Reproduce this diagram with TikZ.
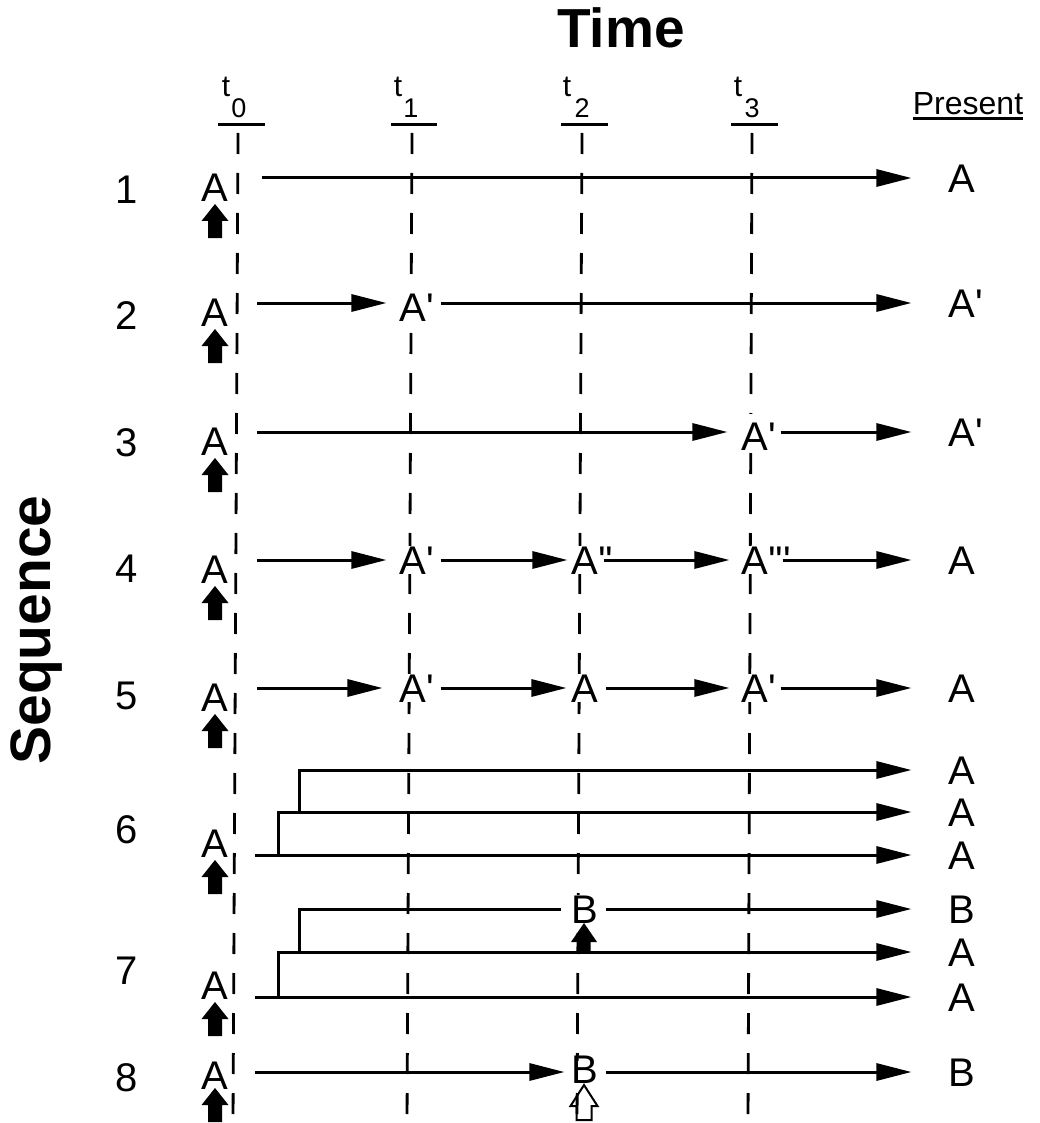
\documentclass[tikz,border=0pt]{standalone}
\usepackage{fontspec}
\newfontfamily\hv{Liberation Sans}
\usetikzlibrary{arrows.meta}
\tikzset{
  every node/.style={font=\hv},
  lbl/.style={inner sep=0pt, font=\hv\fontsize{40}{40}\selectfont, text height=28.6pt, text depth=0pt},
  mid/.style={lbl, fill=white, text height=36.6pt},
  midc/.style={lbl, fill=white},
  midup/.style={lbl, fill=white, text height=22.6pt},
  num/.style={inner sep=0pt, font=\hv\fontsize{40}{40}\selectfont, text height=28.4pt, text depth=0pt},
  tlab/.style={inner sep=0pt, anchor=base, font=\hv\fontsize{30}{30}\selectfont},
  slab/.style={inner sep=0pt, anchor=base, font=\hv\fontsize{27}{27}\selectfont},
  line/.style={line width=3pt},
  arr/.style={line, -{Triangle[length=35pt,width=17pt]}},
  dashline/.style={line width=2.8pt, dash pattern=on 21pt off 19pt},
  uline/.style={line width=3pt},
  blockup/.pic={\fill (0,0) -- (13.5,17) -- (7,17) -- (7,34) -- (-7,34) -- (-7,17) -- (-13.5,17) -- cycle;},
  blockupB/.pic={\fill (0,0) -- (13,19) -- (6.5,19) -- (6.5,29) -- (-6.5,29) -- (-6.5,19) -- (-13,19) -- cycle;},
  openup/.pic={\draw[line width=2pt, line join=miter] (0,0) -- (13.5,21) -- (7.5,21) -- (7.5,35) -- (-7.5,35) -- (-7.5,21) -- (-13.5,21) -- cycle;}
}
\begin{document}
\begin{tikzpicture}[x=1pt,y=-1pt]
\useasboundingbox (0,0) rectangle (1039,1123);

% titles
\node[anchor=base, inner sep=0pt, font=\hv\bfseries\fontsize{55}{55}\selectfont] (time) at (621,48) {Time};
\node[rotate=90, anchor=base, inner sep=0pt, font=\hv\bfseries\fontsize{57}{57}\selectfont] (seq) at (50,630) {Sequence};
\node[anchor=base, inner sep=0pt, font=\hv\fontsize{32}{32}\selectfont] (pres) at (968,115) {Present};
\draw[line width=2.5pt] ([yshift=-3.5pt]pres.base west) -- ([yshift=-3.5pt]pres.base east);

% time labels
\node[tlab] (t0) at (226,97) {t};  \node[slab] (s0) at (239,118) {0};
\node[tlab] (t1) at (398,97) {t};  \node[slab] (s1) at (411,118) {1};
\node[tlab] (t2) at (567,97) {t};  \node[slab] (s2) at (582,118) {2};
\node[tlab] (t3) at (738,97) {t};  \node[slab] (s3) at (752,118) {3};
\draw[uline] (218,125) -- (265,125);
\draw[uline] (391,125) -- (437,125);
\draw[uline] (561,125) -- (608,125);
\draw[uline] (731,125) -- (778,125);

% dashed time lines
\draw[dashline] (238,133) -- (233,1123);
\draw[dashline] (412,133) -- (407,1123);
\draw[dashline] (582,133) -- (577,1123);
\draw[dashline] (752,133) -- (748,1123);

% sequence numbers
\node[num] (n1) at (127,189) {1};
\node[num] (n2) at (127,315) {2};
\node[num] (n3) at (127,442) {3};
\node[num] (n4) at (127,568) {4};
\node[num] (n5) at (127,695) {5};
\node[num] (n6) at (127,829) {6};
\node[num] (n7) at (127,970) {7};
\node[num] (n8) at (127,1077) {8};

% starting A's and arrows
\node[lbl] (L1) at (215,187) {A};  \pic at (215,204) {blockup};
\node[lbl] (L2) at (215,312) {A};  \pic at (215,329) {blockup};
\node[lbl] (L3) at (215,441) {A};  \pic at (215,458) {blockup};
\node[lbl] (L4) at (215,569) {A};  \pic at (215,586) {blockup};
\node[lbl] (L5) at (215,697) {A};  \pic at (215,714) {blockup};
\node[lbl] (L6) at (215,843) {A};  \pic at (215,860) {blockup};
\node[lbl] (L7) at (215,985) {A};  \pic at (215,1002) {blockup};
\node[lbl] (L8) at (215,1075) {A}; \pic at (215,1088) {blockup};

% present column
\node[lbl] (R1) at (962,178) {A};
\node[lbl] (R2) at (962,303) {A\rlap{'}};
\node[lbl] (R3) at (962,432) {A\rlap{'}};
\node[lbl] (R4) at (962,560) {A};
\node[lbl] (R5) at (962,688) {A};
\node[lbl] (R6a) at (962,770) {A};
\node[lbl] (R6b) at (962,812) {A};
\node[lbl] (R6c) at (962,855) {A};
\node[lbl] (R7a) at (962,909) {B};
\node[lbl] (R7b) at (962,952) {A};
\node[lbl] (R7c) at (962,997) {A};
\node[lbl] (R8) at (962,1072) {B};

% row 1
\coordinate (st1) at (262,178);
\draw[arr, shorten >=37pt] (st1) -- (R1);

% row 2
\coordinate (st2) at (257,303);
\node[mid] (M2a) at (413,303) {A\rlap{'}};
\draw[arr, shorten >=13pt] (st2) -- (M2a);
\draw[arr, shorten <=14pt, shorten >=37pt] (M2a) -- (R2);

% row 3
\coordinate (st3) at (257,432);
\node[mid] (M3) at (755,432) {A\rlap{'}};
\draw[arr, shorten >=14pt] (st3) -- (M3);
\draw[arr, shorten <=12pt, shorten >=37pt] (M3) -- (R3);

% row 4
\coordinate (st4) at (257,560);
\node[midc] (M4a) at (413,560) {A\rlap{'}};
\node[midc] (M4b) at (585,560) {A\rlap{''}};
\node[midc] (M4c) at (755,560) {A\rlap{'''}};
\draw[arr, shorten >=13pt] (st4) -- (M4a);
\draw[arr, shorten <=14pt, shorten >=4pt] (M4a) -- (M4b);
\draw[arr, shorten <=5pt, shorten >=12pt] (M4b) -- (M4c);
\draw[arr, shorten <=14pt, shorten >=37pt] (M4c) -- (R4);

% row 5
\coordinate (st5) at (257,688);
\node[midc] (M5a) at (413,688) {A\rlap{'}};
\node[midc] (M5b) at (585,688) {A};
\node[midc] (M5c) at (755,688) {A\rlap{'}};
\draw[arr, shorten >=17pt] (st5) -- (M5a);
\draw[arr, shorten <=14pt, shorten >=5pt] (M5a) -- (M5b);
\draw[arr, shorten <=7pt, shorten >=12pt] (M5b) -- (M5c);
\draw[arr, shorten <=12pt, shorten >=37pt] (M5c) -- (R5);

% row 6
\coordinate (st6) at (255,855);
\coordinate (k6a) at (278,855);
\coordinate (k6b) at (299,812);
\draw[arr, shorten >=37pt] (st6) -- (R6c);
\draw[arr, shorten >=37pt] (k6a) |- (R6b);
\draw[arr, shorten >=37pt] (k6b) |- (R6a);

% row 7
\coordinate (st7) at (255,997);
\coordinate (k7a) at (278,997);
\coordinate (k7b) at (299,952);
\node[midc] (B7) at (585,909) {B};
\draw[arr, shorten >=37pt] (st7) -- (R7c);
\draw[arr, shorten >=37pt] (k7a) |- (R7b);
\draw[line, shorten >=10pt] (k7b) |- (B7);
\draw[arr, shorten <=7pt, shorten >=37pt] (B7) -- (R7a);
\pic at (584,923) {blockupB};

% row 8
\coordinate (st8) at (255,1072);
\node[midup] (B8) at (585,1072) {B};
\draw[arr, shorten >=7pt] (st8) -- (B8);
\draw[arr, shorten <=7pt, shorten >=37pt] (B8) -- (R8);
\pic at (584,1085) {openup};
\end{tikzpicture}
\end{document}
